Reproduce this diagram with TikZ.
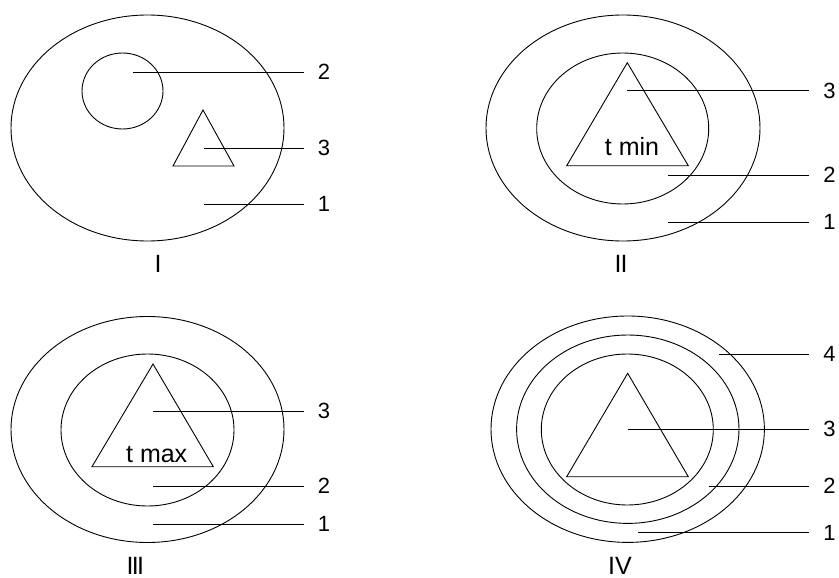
\documentclass[tikz,border=0pt]{standalone}
\usepackage{fontspec}
\setmainfont{Liberation Sans}

\begin{document}
\begin{tikzpicture}[x=1pt,y=-1pt,line width=0.9pt]
\tikzstyle{every node}=[inner sep=0pt,font=\fontsize{22}{22}\selectfont];
\tikzstyle{num}=[anchor=west,inner xsep=13.5pt];
\tikzstyle{roman}=[font=\fontsize{25}{25}\selectfont];
\tikzstyle{temp}=[anchor=base,font=\fontsize{25}{25}\selectfont];
\useasboundingbox (0,0) rectangle (839,578);

% I
\draw (147.5,128) ellipse (136.5pt and 113pt);
\draw (122.5,91) ellipse (40.5pt and 38pt);
\draw (203,110) -- (234,166) -- (173,166) -- cycle;
\coordinate (A) at (133,72);
\coordinate (B) at (204,148);
\coordinate (C) at (204,204);
\node[num](a) at(304,72){2};
\node[num](b) at(304,148){3};
\node[num](c) at(304,204){1};
\node[roman](R1) at(158,264){I};

% II
\draw (623,128) ellipse (137pt and 113pt);
\draw (622.7,128.5) ellipse (86pt and 75.5pt);
\draw (627.3,62.7) -- (688.3,165.7) -- (566.7,165.7) -- cycle;
\node[temp](T1) at(632,155.5){t min};
\coordinate (D) at (627.3,90.7);
\coordinate (E) at (668.3,175);
\coordinate (F) at (668.3,222.3);
\node[num](d) at(809.3,90.7){3};
\node[num](e) at(809.3,175){2};
\node[num](f) at(809.3,222.3){1};
\node[roman](R2) at(621,264){I\kern-1pt I};

% III
\draw (147.5,429.5) ellipse (136.5pt and 113pt);
\draw (147.5,430) ellipse (86.5pt and 76pt);
\draw (153,364) -- (213.3,466.7) -- (92,466.7) -- cycle;
\node[temp](T2) at(156.7,462){t max};
\coordinate (G) at (153,411);
\coordinate (H) at (153,486.3);
\coordinate (I) at (153,524.3);
\node[num](g) at(304,411){3};
\node[num](h) at(304,486.3){2};
\node[num](i) at(304,524.3){1};
\node[roman](R3) at(135.3,565.5){I\kern-1.7pt I\kern-1.7pt I};

% IV
\draw (627.7,429.2) ellipse (136.7pt and 113.2pt);
\draw (627.8,429.2) ellipse (111.2pt and 94.2pt);
\draw (627.3,429.5) ellipse (86pt and 75.5pt);
\draw (627.7,373.3) -- (688.3,476.7) -- (566.7,476.7) -- cycle;
\coordinate (J) at (719,354);
\coordinate (K) at (627.7,429.3);
\coordinate (L) at (708.7,486);
\coordinate (M) at (638.3,532.7);
\node[num](j) at(809.3,354){4};
\node[num](k) at(809.3,429.3){3};
\node[num](l) at(809.3,486){2};
\node[num](m) at(809.3,532.7){1};
\node[roman](R4) at(620,565.5){IV};

\draw (A)-- (a);
\draw (B)-- (b);
\draw (C)-- (c);
\draw (D)-- (d);
\draw (E)-- (e);
\draw (F)-- (f);
\draw (G)-- (g);
\draw (H)-- (h);
\draw (I)-- (i);
\draw (J)-- (j);
\draw (K)-- (k);
\draw (L)-- (l);
\draw (M)-- (m);

\end{tikzpicture}
\end{document}
